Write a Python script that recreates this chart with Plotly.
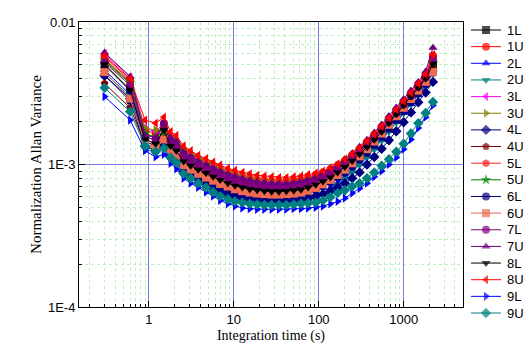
import plotly.graph_objects as go

# Integration time (s)
tau = [0.3, 0.6, 0.9, 1.2, 1.5, 1.8, 2.1,
       2.56, 3.1, 3.8, 4.7, 5.7, 6.9, 8.5,
       10.3, 12.6, 15.4, 18.8, 22.9, 27.9, 34, 41.5, 50.7, 61.8,
       75, 92, 112, 137, 167, 203, 248, 303, 370, 451,
       550, 671, 819, 999, 1219, 1487, 1814, 2213]

# Normalized Allan variance, in units of 1e-4
UNIT = 1e-4
s1L = [50, 33, 14.5, 13.5, 15.5, 13.0, 12.0,
       10.3, 9.6, 9.0, 8.5, 8.0, 7.6, 7.2,
       6.9, 6.7, 6.6, 6.5, 6.45, 6.4, 6.4, 6.45, 6.5, 6.6,
       6.8, 7.1, 7.5, 8.0, 8.6, 9.4, 10.4, 11.6, 13.0, 14.7,
       16.8, 19.3, 22.2, 25.6, 29.5, 34.0, 39.5, 50]
s1U = [57, 39, 17.5, 16.5, 18.5, 15, 14,
       12.5, 11.6, 10.9, 10.3, 9.7, 9.2, 8.8,
       8.5, 8.2, 8.0, 7.8, 7.7, 7.6, 7.6, 7.6, 7.7, 7.8,
       8.0, 8.3, 8.7, 9.2, 9.8, 10.6, 11.6, 12.8, 14.3, 16.1,
       18.3, 21.0, 24.0, 27.5, 31.5, 36.5, 42, 58]
s2L = [46, 31, 13.5, 12.5, 14.0, 11.5, 10.5,
       8.9, 8.2, 7.6, 7.1, 6.7, 6.3, 6.0,
       5.8, 5.65, 5.55, 5.5, 5.45, 5.4, 5.4, 5.4, 5.45, 5.55,
       5.7, 5.95, 6.3, 6.8, 7.4, 8.1, 9.0, 10.1, 11.4, 13.0,
       14.9, 17.2, 19.9, 23.0, 26.6, 30.8, 36, 46]
s2U = [44, 30, 13, 12, 13.5, 11.0, 10.2,
       8.6, 8.0, 7.4, 6.9, 6.5, 6.1, 5.8,
       5.6, 5.45, 5.35, 5.3, 5.25, 5.2, 5.2, 5.2, 5.25, 5.35,
       5.5, 5.75, 6.1, 6.6, 7.2, 7.9, 8.8, 9.9, 11.2, 12.8,
       14.7, 17.0, 19.7, 22.8, 26.4, 30.6, 35.5, 45]
s3L = [60, 41, 18, 17, 19.5, 15.5, 14.5,
       12.8, 11.8, 11.0, 10.4, 9.8, 9.3, 8.9,
       8.6, 8.3, 8.0, 7.8, 7.7, 7.6, 7.5, 7.5, 7.6, 7.7,
       7.9, 8.2, 8.6, 9.1, 9.7, 10.5, 11.5, 12.7, 14.2, 16.0,
       18.2, 20.8, 23.8, 27.3, 31.3, 36.0, 42, 57]
s3U = [53, 37, 18, 17.5, 17, 15.5, 14.8,
       13.0, 12.0, 11.2, 10.6, 10.0, 9.4, 9.0,
       8.6, 8.3, 8.0, 7.9, 7.8, 7.7, 7.7, 7.7, 7.8, 7.9,
       8.1, 8.4, 8.8, 9.3, 9.9, 10.7, 11.7, 12.9, 14.3, 16.0,
       18.0, 20.5, 23.4, 26.8, 30.6, 35.0, 40.5, 54]
s4L = [42, 29, 13.5, 12.5, 13.5, 11.5, 10.6,
       9.0, 8.4, 7.8, 7.3, 6.9, 6.5, 6.2,
       6.0, 5.85, 5.75, 5.7, 5.65, 5.6, 5.6, 5.6, 5.65, 5.7,
       5.8, 6.0, 6.2, 6.5, 6.9, 7.4, 8.0, 8.8, 10.0, 11.3,
       12.9, 14.8, 17.1, 19.8, 23.2, 27.3, 32, 38]
s4U = [37, 25, 14, 13, 14.5, 12.0, 11.2,
       9.7, 9.0, 8.4, 7.9, 7.5, 7.1, 6.8,
       6.6, 6.4, 6.3, 6.2, 6.15, 6.1, 6.1, 6.15, 6.2, 6.3,
       6.5, 6.8, 7.2, 7.7, 8.3, 9.1, 10.0, 11.2, 12.6, 14.2,
       16.2, 18.6, 21.4, 24.6, 28.4, 32.8, 38, 48]
s5L = [55, 38, 16.5, 15.5, 17.5, 14.2, 13.3,
       12.0, 11.2, 10.5, 9.9, 9.4, 8.9, 8.5,
       8.2, 7.9, 7.7, 7.6, 7.5, 7.4, 7.4, 7.4, 7.5, 7.6,
       7.8, 8.1, 8.5, 9.0, 9.6, 10.4, 11.4, 12.6, 14.0, 15.8,
       17.9, 20.5, 23.5, 27.0, 31.0, 35.5, 41, 56]
s5U = [54, 37.5, 16.5, 15.5, 17.0, 14.5, 13.6,
       12.2, 11.3, 10.5, 9.9, 9.3, 8.8, 8.4,
       8.1, 7.8, 7.6, 7.4, 7.3, 7.2, 7.2, 7.2, 7.3, 7.4,
       7.6, 7.9, 8.3, 8.8, 9.4, 10.2, 11.2, 12.4, 13.8, 15.5,
       17.6, 20.2, 23.2, 26.6, 30.5, 35.0, 40.5, 52]
s6L = [42.5, 28, 13.5, 12.5, 14.5, 12.0, 11.0,
       9.5, 8.9, 8.3, 7.8, 7.4, 7.0, 6.7,
       6.5, 6.3, 6.15, 6.05, 6.0, 5.95, 5.95, 6.0, 6.05, 6.15,
       6.35, 6.65, 7.0, 7.5, 8.1, 8.8, 9.7, 10.8, 12.1, 13.7,
       15.6, 17.9, 20.6, 23.7, 27.3, 31.5, 36.5, 44]
s6U = [44.5, 29, 14, 13, 15, 12.5, 11.5,
       9.9, 9.2, 8.6, 8.1, 7.7, 7.3, 7.0,
       6.7, 6.5, 6.35, 6.25, 6.2, 6.15, 6.15, 6.2, 6.25, 6.35,
       6.55, 6.85, 7.25, 7.8, 8.45, 9.2, 10.2, 11.4, 12.8, 14.5,
       16.5, 19.0, 21.8, 25.0, 28.8, 33.0, 38, 44.5]
s7L = [52, 36, 15.5, 15, 19.5, 14.5, 13.3,
       11.4, 10.6, 9.9, 9.3, 8.8, 8.4, 8.0,
       7.7, 7.5, 7.3, 7.2, 7.1, 7.1, 7.1, 7.1, 7.2, 7.3,
       7.5, 7.8, 8.2, 8.7, 9.3, 10.1, 11.1, 12.3, 13.7, 15.4,
       17.5, 20.0, 23.0, 26.4, 30.3, 35.0, 41, 55]
s7U = [61, 41.5, 16, 15.5, 19.5, 15.5, 14.5,
       12.3, 11.4, 10.6, 10.0, 9.5, 9.0, 8.6,
       8.3, 8.0, 7.8, 7.6, 7.5, 7.4, 7.4, 7.4, 7.5, 7.7,
       7.9, 8.2, 8.7, 9.3, 10.0, 10.9, 12.0, 13.3, 14.9, 16.8,
       19.1, 21.9, 25.1, 28.8, 33, 38, 45, 66]
s8L = [50.5, 33.5, 15, 14, 17.5, 13.5, 12.5,
       10.5, 9.8, 9.2, 8.7, 8.2, 7.8, 7.4,
       7.1, 6.9, 6.7, 6.6, 6.5, 6.45, 6.45, 6.5, 6.55, 6.65,
       6.9, 7.2, 7.6, 8.1, 8.8, 9.6, 10.6, 11.8, 13.2, 14.9,
       17.0, 19.5, 22.5, 26.0, 30.0, 34.5, 40, 51]
s8U = [58, 40, 20.5, 19.5, 21.5, 17, 16,
       13.5, 12.5, 11.6, 11.0, 10.4, 9.9, 9.4,
       9.1, 8.8, 8.6, 8.4, 8.3, 8.2, 8.1, 8.1, 8.2, 8.3,
       8.5, 8.7, 9.0, 9.5, 10.1, 10.9, 11.9, 13.1, 14.6, 16.4,
       18.6, 21.2, 24.3, 27.8, 32, 37, 43, 59]
s9L = [30, 20.5, 12.5, 11.3, 11.8, 10.2, 9.3,
       8.0, 7.4, 6.9, 6.4, 6.0, 5.6, 5.3,
       5.1, 4.95, 4.9, 4.85, 4.85, 4.85, 4.85, 4.85, 4.9, 4.9,
       4.95, 5.0, 5.1, 5.3, 5.5, 5.8, 6.3, 6.8, 7.4, 8.2,
       9.0, 10.0, 11.2, 12.8, 15.0, 18.0, 21.5, 26]
s9U = [34.5, 23.5, 13.5, 12.3, 13.0, 11.2, 10.3,
       8.6, 8.0, 7.4, 6.9, 6.4, 6.0, 5.7,
       5.5, 5.4, 5.3, 5.25, 5.2, 5.2, 5.2, 5.2, 5.25, 5.3,
       5.35, 5.4, 5.6, 5.9, 6.3, 6.6, 7.0, 7.4, 8.0, 8.8,
       9.8, 10.9, 12.3, 14.0, 16.5, 19.5, 23, 27.5]

names = ["1L", "1U", "2L", "2U", "3L", "3U", "4L", "4U", "5L",
         "5U", "6L", "6U", "7L", "7U", "8L", "8U", "9L", "9U"]
series = [s1L, s1U, s2L, s2U, s3L, s3U, s4L, s4U, s5L,
          s5U, s6L, s6U, s7L, s7U, s8L, s8U, s9L, s9U]
colors = ["#000000", "#FF0000", "#0000FF", "#008080", "#FF00FF", "#808000",
          "#000080", "#800000", "#FF2020", "#008000", "#000080", "#EE6A50",
          "#800080", "#6A0080", "#000000", "#FF0000", "#0000FF", "#008080"]
symbols = ["square", "circle", "triangle-up", "triangle-down", "triangle-left",
           "triangle-right", "diamond", "pentagon", "hexagon", "star", "circle",
           "square", "circle", "triangle-up", "triangle-down", "triangle-left",
           "triangle-right", "diamond"]

# ---- layout geometry (pixels) ----
W, H = 532, 348
ML, MT, MB = 79, 22, 30           # figure margins (right margin 0: legend lives in a side axis)
plot_right = 463                  # right edge of data frame
plot_bottom = 307                 # bottom edge of data frame
area_w = W - ML
area_h = H - MT - MB
x_dom_end = (plot_right - ML) / area_w
y_dom_start = (H - MB - plot_bottom) / area_h
leg_start = (466 - ML) / area_w

fig = go.Figure()
for nm, vals, c, sym in zip(names, series, colors, symbols):
    fig.add_trace(go.Scatter(
        x=tau, y=[v * UNIT for v in vals], name=nm, mode="lines+markers",
        line=dict(color=c, width=1),
        marker=dict(symbol=sym, color=c, size=8, line=dict(width=0)),
        showlegend=False, xaxis="x", yaxis="y",
    ))

# ---- legend drawn in a side axis (one row per series) ----
n = len(names)
for i, (nm, c, sym) in enumerate(zip(names, colors, symbols)):
    fig.add_trace(go.Scatter(
        x=[5, 20, 35], y=[i, i, i], mode="lines+markers",
        line=dict(color=c, width=1),
        marker=dict(symbol=sym, color=c, size=[0, 8, 0], line=dict(width=0)),
        showlegend=False, hoverinfo="skip", xaxis="x2", yaxis="y2",
    ))
    fig.add_annotation(x=39, y=i, xref="x2", yref="y2", text=nm, showarrow=False,
                       xanchor="left", yanchor="middle",
                       font=dict(family="Liberation Sans, Arial", size=13, color="black"))

# first legend row at y=30 px, last at y=313 px
first_px, last_px = 30, 313
step = (last_px - first_px) / (n - 1)
top_val = -(first_px - MT) / step
bot_val = (n - 1) + (H - MB - last_px) / step

tickfont = dict(family="Liberation Sans, Arial", size=13, color="black")
fig.update_layout(
    width=W, height=H,
    margin=dict(l=ML, r=0, t=MT, b=MB, autoexpand=False),
    paper_bgcolor="white", plot_bgcolor="white",
    showlegend=False,
    xaxis2=dict(domain=[leg_start, 1], range=[0, W - 466], visible=False,
                anchor="y2", fixedrange=True),
    yaxis2=dict(domain=[0, 1], range=[bot_val, top_val], visible=False,
                anchor="x2", fixedrange=True),
)
fig.update_xaxes(
    selector=dict(anchor="y"),
)
fig.update_layout(xaxis=dict(
    domain=[0, x_dom_end], anchor="y",
    type="log", range=[-0.8239, 3.699],
    tickvals=[1, 10, 100, 1000], ticktext=["1", "10", "100", "1000"],
    ticks="inside", ticklen=6, tickcolor="black",
    showline=True, linecolor="black", linewidth=1, mirror=True,
    showgrid=True, gridcolor="#7878E6", gridwidth=1,
    minor=dict(dtick="D1", ticks="inside", ticklen=3, tickcolor="black",
               showgrid=True, gridcolor="#BFEFBF", griddash="dot", gridwidth=1),
    tickfont=tickfont, zeroline=False,
    title=dict(text="Integration time (s)", standoff=4,
               font=dict(family="Liberation Serif, Times New Roman", size=14, color="black")),
))
fig.update_layout(yaxis=dict(
    domain=[y_dom_start, 1], anchor="x",
    type="log", range=[-4, -2],
    tickvals=[1e-4, 1e-3, 1e-2], ticktext=["1E-4", "1E-3", "0.01"],
    ticks="inside", ticklen=6, tickcolor="black",
    showline=True, linecolor="black", linewidth=1, mirror=True,
    showgrid=True, gridcolor="#7878E6", gridwidth=1,
    minor=dict(dtick="D1", ticks="inside", ticklen=3, tickcolor="black",
               showgrid=True, gridcolor="#BFEFBF", griddash="dot", gridwidth=1),
    tickfont=tickfont, zeroline=False,
    title=dict(text="Normalization Allan Variance", standoff=2,
               font=dict(family="Liberation Serif, Times New Roman", size=15, color="black")),
))

fig.write_html("out.html")
